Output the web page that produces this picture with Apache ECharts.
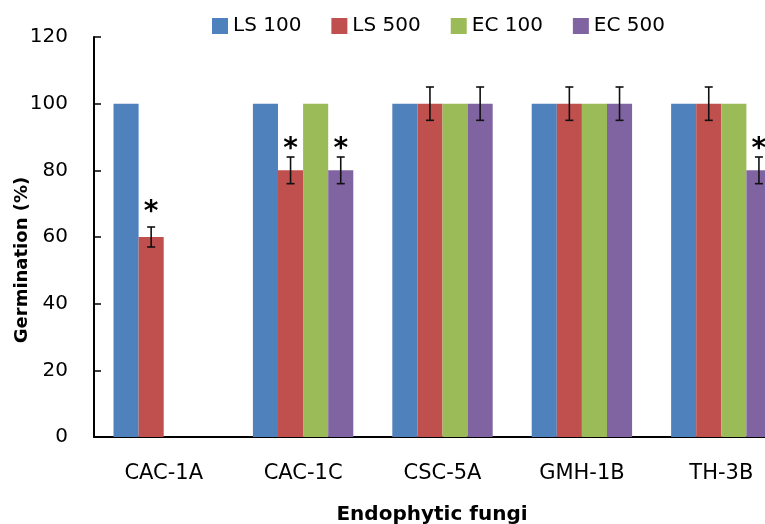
<!DOCTYPE html>
<html><head><meta charset="utf-8">
<script src="https://cdn.jsdelivr.net/npm/echarts@6/dist/echarts.min.js"></script>
<style>html,body{margin:0;padding:0;background:#fff;overflow:hidden;width:765px;height:524px}#c{width:800px;height:524px}</style>
</head><body><div id="c"></div>
<script>
var categories = ['CAC-1A', 'CAC-1C', 'CSC-5A', 'GMH-1B', 'TH-3B'];
var seriesNames = ['LS 100', 'LS 500', 'EC 100', 'EC 500'];
var ls100 = [100, 100, 100, 100, 100];
var ls500 = [60, 80, 100, 100, 100];
var ec100 = [0, 100, 100, 100, 100];
var ec500 = [0, 80, 100, 100, 80];
var ls500Err = [3, 4, 5, 5, 5];
var ec500Err = [null, 4, 5, 5, 4];
var ls500Star = [69, 88, null, null, null];
var ec500Star = [null, 88, null, null, 88];
var yTicks = [0, 20, 40, 60, 80, 100, 120];
var colors = ['#4F81BD', '#C0504D', '#9BBB59', '#8064A2'];

var FONT = 'DejaVu Sans';
var chart = echarts.init(document.getElementById('c'));
var BARFRAC = 0.18;

function errSeries(seriesIdx, vals, errs, stars) {
  return {
    type: 'custom',
    silent: true,
    z: 10,
    data: categories.map(function (c, i) { return [i, vals[i], errs[i], stars[i]]; }),
    renderItem: function (params, api) {
      var i = api.value(0);
      var band = api.size([1, 0])[0];
      var bw = band * BARFRAC;
      var off = (seriesIdx - 1.5) * bw;
      var children = [];
      var e = errs[i];
      var v = vals[i];
      var center = api.coord([i, v]);
      var x = center[0] + off;
      if (e != null) {
        var top = api.coord([i, v + e])[1];
        var bot = api.coord([i, v - e])[1];
        var st = { stroke: '#111', lineWidth: 1.6 };
        children.push({ type: 'line', shape: { x1: x, y1: top, x2: x, y2: bot }, style: st });
        children.push({ type: 'line', shape: { x1: x - 4, y1: top, x2: x + 4, y2: top }, style: st });
        children.push({ type: 'line', shape: { x1: x - 4, y1: bot, x2: x + 4, y2: bot }, style: st });
      }
      var s = stars[i];
      if (s != null) {
        var sy = api.coord([i, s])[1];
        children.push({ type: 'text', style: { text: '*', x: x, y: sy + 6, align: 'center', verticalAlign: 'middle', font: 'bold 28px "' + FONT + '"', fill: '#000' } });
      }
      return { type: 'group', children: children };
    }
  };
}

var barSeries = [ls100, ls500, ec100, ec500].map(function (d, k) {
  return {
    name: seriesNames[k], type: 'bar', data: d,
    barWidth: (BARFRAC * 100) + '%', barGap: '0%',
    itemStyle: { color: colors[k] }
  };
});

chart.setOption({
  animation: false,
  textStyle: { fontFamily: FONT },
  color: colors,
  legend: {
    data: seriesNames, left: 212, top: 16, padding: 0, itemWidth: 16, itemHeight: 16, itemGap: 30,
    icon: 'rect',
    textStyle: { fontSize: 20, color: '#000', fontFamily: FONT }
  },
  grid: { left: 94, top: 37, width: 697, height: 400, containLabel: false },
  xAxis: {
    type: 'category', data: categories,
    axisLine: { lineStyle: { color: '#000', width: 2 } },
    axisTick: { inside: true, length: 6, lineStyle: { color: '#000', width: 1.5 } },
    axisLabel: { fontSize: 21, color: '#000', margin: 26, fontFamily: FONT }
  },
  yAxis: {
    type: 'value', min: 0, max: 120, interval: 20,
    axisLine: { show: true, lineStyle: { color: '#000', width: 2 } },
    axisTick: { show: true, inside: true, length: 7, lineStyle: { color: '#000', width: 1.5 } },
    splitLine: { show: false },
    axisLabel: { fontSize: 20, color: '#000', margin: 26, fontFamily: FONT,
      formatter: function (v) { return yTicks.indexOf(v) >= 0 ? String(v) : ''; } }
  },
  graphic: [
    { type: 'text', x: 432, y: 515, style: { text: 'Endophytic fungi', font: 'bold 20px "' + FONT + '"', fill: '#000', align: 'center', verticalAlign: 'middle' } },
    { type: 'text', x: 22, y: 260, rotation: Math.PI / 2, style: { text: 'Germination (%)', font: 'bold 18px "' + FONT + '"', fill: '#000', align: 'center', verticalAlign: 'middle' } }
  ],
  series: barSeries.concat([
    errSeries(1, ls500, ls500Err, ls500Star),
    errSeries(3, ec500, ec500Err, ec500Star)
  ])
});
</script></body></html>
